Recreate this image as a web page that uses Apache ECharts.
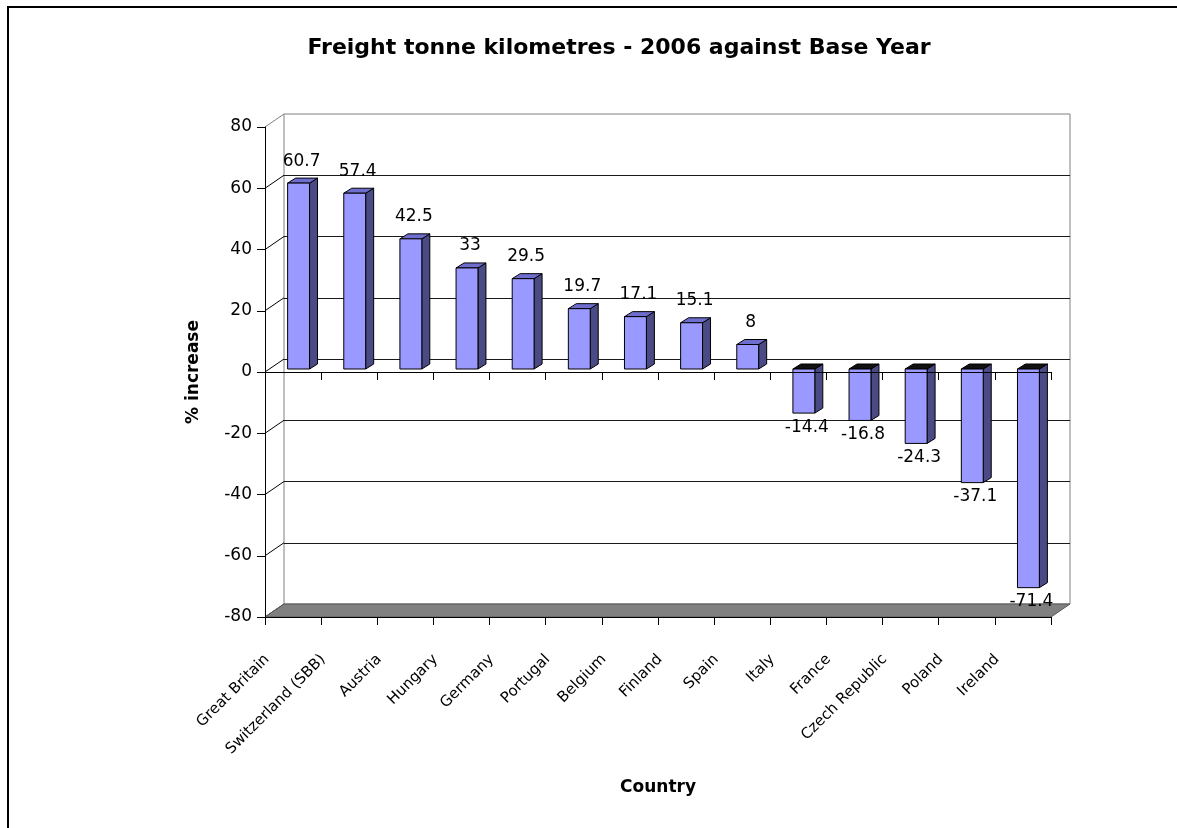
<!DOCTYPE html>
<html><head><meta charset="utf-8">
<script src="https://cdn.jsdelivr.net/npm/echarts@6/dist/echarts.min.js"></script>
<style>html,body{margin:0;padding:0;background:#fff}#c{width:1177px;height:828px}</style>
</head><body><div id="c"></div>
<script>
const categories = ['Great Britain','Switzerland (SBB)','Austria','Hungary','Germany','Portugal','Belgium','Finland','Spain','Italy','France','Czech Republic','Poland','Ireland'];
const values = [60.7, 57.4, 42.5, 33, 29.5, 19.7, 17.1, 15.1, 8, -14.4, -16.8, -24.3, -37.1, -71.4];
const yTicks = [-80, -60, -40, -20, 0, 20, 40, 60, 80];
const titleText = 'Freight tonne kilometres - 2006 against Base Year';
const yName = '% increase';
const xName = 'Country';

const FONT = 'DejaVu Sans';
const DEPTH = [19, -13];
const BAR_DEPTH = [8, -5];
const BAR_SHIFT = [5.5, -3];

const chart = echarts.init(document.getElementById('c'), null, {renderer: 'canvas'});

function renderBar(params, api) {
  const i = api.value(0), v = api.value(1);
  const p0 = api.coord([i, 0]), p1 = api.coord([i, v]);
  const band = api.size([1, 0])[0];
  const w = band * 0.39;
  const cx = p0[0] + BAR_SHIFT[0];
  const yA = Math.min(p0[1], p1[1]) + BAR_SHIFT[1];
  const yB = Math.max(p0[1], p1[1]) + BAR_SHIFT[1];
  const xL = cx - w / 2, xR = cx + w / 2;
  const dx = BAR_DEPTH[0], dy = BAR_DEPTH[1];
  const pos = v >= 0;
  return {
    type: 'group',
    children: [
      {type: 'polygon', shape: {points: [[xR, yA], [xR + dx, yA + dy], [xR + dx, yB + dy], [xR, yB]]},
       style: {fill: '#4A4A85', stroke: '#000', lineWidth: 1}},
      {type: 'polygon', shape: {points: [[xL, yA], [xL + dx, yA + dy], [xR + dx, yA + dy], [xR, yA]]},
       style: {fill: pos ? '#6E6ECF' : '#111111', stroke: '#000', lineWidth: 1}},
      {type: 'rect', shape: {x: xL, y: yA, width: w, height: yB - yA},
       style: {fill: '#9999FF', stroke: '#000', lineWidth: 1}},
      {type: 'text', x: cx + 3, y: pos ? yA - 22 : yB + 14,
       style: {text: String(values[i]), fill: '#000', fontSize: 17, fontFamily: FONT, align: 'center', verticalAlign: 'middle'}}
    ]
  };
}

const option = {
  animation: false,
  backgroundColor: '#fff',
  textStyle: {fontFamily: FONT},
  title: {
    text: titleText, left: 614, top: 32, textAlign: 'center',
    textStyle: {fontFamily: FONT, fontSize: 22, fontWeight: 'bold', color: '#000'}
  },
  graphic: [{type: 'rect', silent: true, shape: {x: 8, y: 7, width: 1200, height: 900},
             style: {fill: 'none', stroke: '#000', lineWidth: 2}}],
  grid: [
    {left: 265, top: 127, width: 786, height: 490},
    {left: 284, top: 114, width: 786, height: 490, show: true, borderColor: '#808080', borderWidth: 1, backgroundColor: 'transparent'},
    {left: 239, top: 127, width: 786, height: 490}
  ],
  xAxis: [
    {gridIndex: 0, type: 'category', data: categories, position: 'bottom', z: 5,
     axisLine: {show: true, onZero: false, lineStyle: {color: '#000', width: 1}},
     axisTick: {show: true, interval: 0, alignWithLabel: false, length: 8, lineStyle: {color: '#000', width: 1}},
     axisLabel: {show: false, interval: 0},
     name: xName, nameLocation: 'middle', nameGap: 162,
     nameTextStyle: {fontFamily: FONT, fontSize: 17, fontWeight: 'bold', color: '#000'}},
    {gridIndex: 0, type: 'category', data: categories, position: 'top', z: 5,
     axisLine: {show: true, onZero: true, lineStyle: {color: '#000', width: 1}},
     axisTick: {show: true, interval: 0, inside: true, length: 8, lineStyle: {color: '#000', width: 1}},
     axisLabel: {show: false, interval: 0}},
    {gridIndex: 1, type: 'category', data: categories, show: false},
    {gridIndex: 2, type: 'category', data: categories, position: 'bottom',
     axisLine: {show: false}, axisTick: {show: false},
     axisLabel: {rotate: 45, interval: 0, fontSize: 15, color: '#000', margin: 40, fontFamily: FONT}}
  ],
  yAxis: [
    {gridIndex: 0, type: 'value', min: yTicks[0], max: yTicks[yTicks.length - 1], interval: yTicks[1] - yTicks[0], z: 5,
     axisLine: {show: true, lineStyle: {color: '#000', width: 1}},
     axisTick: {show: true, length: 8, lineStyle: {color: '#000', width: 1}},
     axisLabel: {fontSize: 17, color: '#000', margin: 13, fontFamily: FONT},
     splitLine: {show: false},
     name: yName, nameLocation: 'middle', nameGap: 63,
     nameTextStyle: {fontFamily: FONT, fontSize: 17, fontWeight: 'bold', color: '#000'}},
    {gridIndex: 1, type: 'value', min: yTicks[0], max: yTicks[yTicks.length - 1], interval: yTicks[1] - yTicks[0],
     axisLine: {show: false}, axisTick: {show: false}, axisLabel: {show: false},
     splitLine: {show: true, showMinLine: false, showMaxLine: false, lineStyle: {color: '#1a1a1a', width: 1}}},
    {gridIndex: 2, type: 'value', min: yTicks[0], max: yTicks[yTicks.length - 1], show: false}
  ],
  series: [
    {
      type: 'custom', name: 'leftWall', xAxisIndex: 0, yAxisIndex: 0, silent: true,
      data: yTicks.map(t => [0, t]),
      renderItem: (params, api) => {
        const p = api.coord([0, api.value(1)]);
        const band = api.size([1, 0])[0];
        const x = p[0] - band / 2;
        const isTop = api.value(1) === yTicks[yTicks.length - 1];
        return {type: 'line', shape: {x1: x, y1: p[1], x2: x + DEPTH[0], y2: p[1] + DEPTH[1]},
                style: {stroke: isTop ? '#808080' : '#000', lineWidth: 1}};
      }
    },
    {
      type: 'custom', name: 'floor', xAxisIndex: 0, yAxisIndex: 0, silent: true,
      data: [[0, yTicks[0]]],
      renderItem: (params, api) => {
        const band = api.size([1, 0])[0];
        const pL = api.coord([0, api.value(1)]);
        const pR = api.coord([categories.length - 1, api.value(1)]);
        const xL = pL[0] - band / 2, xR = pR[0] + band / 2, y = pL[1];
        return {type: 'polygon',
                shape: {points: [[xL, y], [xR, y], [xR + DEPTH[0], y + DEPTH[1]], [xL + DEPTH[0], y + DEPTH[1]]]},
                style: {fill: '#808080', stroke: '#595959', lineWidth: 1}};
      }
    },
    {
      type: 'custom', name: 'bars', xAxisIndex: 0, yAxisIndex: 0,
      data: values.map((v, i) => [i, v]),
      renderItem: renderBar
    }
  ]
};
chart.setOption(option);
</script>
</body></html>
